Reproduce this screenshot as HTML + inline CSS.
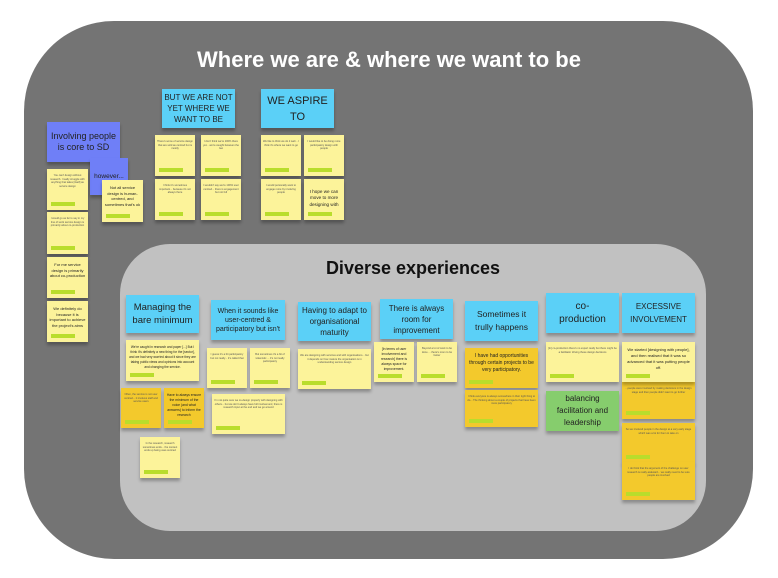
<!DOCTYPE html>
<html><head><meta charset="utf-8"><style>
body{margin:0;width:778px;height:578px;background:#fff;position:relative;overflow:hidden;font-family:"Liberation Sans",sans-serif}
.a{position:absolute}
.outer{left:24px;top:21px;width:729px;height:538px;background:#747474;border-radius:90px}
.inner{left:120px;top:244px;width:586px;height:287px;background:#c1c1c1;border-radius:50px}
.n{position:absolute;box-shadow:0 3px 3px rgba(0,0,0,.28);display:flex;flex-direction:column;align-items:center;justify-content:center;text-align:center;color:#222;box-sizing:border-box;padding:2px;overflow:hidden}
.c{background:#5bd0f7}
.b{background:#6f7ff7}
.y{background:#fcf39a;justify-content:flex-start;padding-top:5px}
.o{background:#f3c92c;justify-content:flex-start;padding-top:5px}
.g{background:#86cd6d}
.t{font-size:2.6px;line-height:3.6px;color:#555}
.m{font-size:4px;line-height:5.6px}
.bar{position:absolute;left:4px;bottom:4px;width:24px;height:4px;background:#b9dd2c}
.h{font-size:9px;line-height:11px}
</style></head><body>
<div class="a outer"></div>
<div class="a" style="left:0;width:778px;text-align:center;top:47px;font-size:22px;font-weight:bold;color:#fff">Where we are &amp; where we want to be</div>
<div class="a inner"></div>
<div class="a" style="left:120px;width:586px;top:258px;text-align:center;font-size:18px;font-weight:bold;color:#111">Diverse experiences</div>

<div class="n b h" style="left:47px;top:122px;width:73px;height:40px">Involving people is core to SD</div>
<div class="n b" style="left:90px;top:158px;width:38px;height:37px;font-size:6.5px">however...</div>
<div class="n y m" style="left:102px;top:180px;width:41px;height:42px">Not all service design is human-centred, and sometimes that's ok<div class="bar"></div></div>
<div class="n y t" style="left:47px;top:169px;width:41px;height:41px">You can't design without research. I really struggle with anything that takes [itself] as service design<div class="bar"></div></div>
<div class="n y t" style="left:47px;top:212px;width:41px;height:42px">I would go as far to say in my line of work service design is primarily about co-production<div class="bar"></div></div>
<div class="n y m" style="left:47px;top:257px;width:41px;height:41px">For me service design is primarily about co-production<div class="bar"></div></div>
<div class="n y m" style="left:47px;top:301px;width:41px;height:41px">We definitely do because it is important to achieve the project's aims<div class="bar"></div></div>

<div class="n c h" style="left:162px;top:89px;width:73px;height:39px;font-size:8px;line-height:11px">BUT WE ARE NOT YET WHERE WE WANT TO BE</div>
<div class="n c" style="left:261px;top:89px;width:73px;height:39px;font-size:11px;line-height:16px">WE ASPIRE TO</div>
<div class="n y t" style="left:155px;top:135px;width:40px;height:41px">There's some of service design that are sold as centred but is mostly<div class="bar"></div></div>
<div class="n y t" style="left:201px;top:135px;width:40px;height:41px">I don't think we're 100% there yet... we're caught between the two<div class="bar"></div></div>
<div class="n y t" style="left:155px;top:179px;width:40px;height:41px">I think it's sometimes important... because it's not always there<div class="bar"></div></div>
<div class="n y t" style="left:201px;top:179px;width:40px;height:41px">I wouldn't say we're 100% user centred... there is engagement but not full<div class="bar"></div></div>
<div class="n y t" style="left:261px;top:135px;width:40px;height:41px">We like to think we do it well... I think it's where we want to go<div class="bar"></div></div>
<div class="n y t" style="left:304px;top:135px;width:40px;height:41px">I would like to be doing more participatory design with people<div class="bar"></div></div>
<div class="n y t" style="left:261px;top:179px;width:40px;height:41px">I would personally want to engage more by involving people<div class="bar"></div></div>
<div class="n y m" style="left:304px;top:179px;width:40px;height:41px;font-size:4.6px;line-height:6.5px;justify-content:center;padding-top:0">I hope we can move to more designing with<div class="bar"></div></div>

<div class="n c" style="left:126px;top:295px;width:73px;height:38px;font-size:9.5px;line-height:13px">Managing the bare minimum</div>
<div class="n c" style="left:211px;top:300px;width:74px;height:40px;font-size:7px;line-height:9px">When it sounds like user-centred &amp; participatory but isn't</div>
<div class="n c" style="left:298px;top:302px;width:73px;height:39px;font-size:8px;line-height:11px">Having to adapt to organisational maturity</div>
<div class="n c" style="left:380px;top:299px;width:73px;height:40px;font-size:8px;line-height:11px">There is always room for improvement</div>
<div class="n c" style="left:465px;top:301px;width:73px;height:40px;font-size:8.5px;line-height:13px">Sometimes it trully happens</div>
<div class="n c" style="left:546px;top:293px;width:73px;height:40px;font-size:10px;line-height:13px">co-<br>production</div>
<div class="n c" style="left:622px;top:293px;width:73px;height:40px;font-size:8px;line-height:13px">EXCESSIVE INVOLVEMENT</div>

<div class="n y" style="left:126px;top:340px;width:73px;height:41px;font-size:3.2px;line-height:5px">We're caught in research and paper [...] But I think it's definitely a new thing for the [sector], and we had very worried about it since they are taking public views and opinions into account and changing the service.<div class="bar"></div></div>
<div class="n o t" style="left:121px;top:388px;width:40px;height:40px">Often, the service is not user centred... it involves staff and service users<div class="bar"></div></div>
<div class="n o" style="left:164px;top:388px;width:40px;height:40px;font-size:3.4px;line-height:5px">Have to always ensure the minimum of the voice (and what answers) to inform the research<div class="bar"></div></div>
<div class="n y t" style="left:140px;top:437px;width:40px;height:41px">In the research, research sometimes ends... the context ends up being user-centred<div class="bar"></div></div>
<div class="n y t" style="left:207px;top:348px;width:40px;height:40px">I guess it's a bit participatory but not really... it's called that<div class="bar"></div></div>
<div class="n y t" style="left:250px;top:348px;width:40px;height:40px">But sometimes it's a bit of tokenistic ... it's not really participatory<div class="bar"></div></div>
<div class="n y t" style="left:212px;top:394px;width:73px;height:40px">I'm not quite sure we co-design properly with designing with others... but we don't always have full involvement; there is research input at the end and we go around<div class="bar"></div></div>
<div class="n y t" style="left:298px;top:349px;width:73px;height:40px">We are designing with services and with organisations... but it depends on how mature the organisation is in understanding service design<div class="bar"></div></div>
<div class="n y" style="left:374px;top:342px;width:40px;height:40px;font-size:3.4px;line-height:5px">[In terms of user involvement and research] there is always space for improvement.<div class="bar"></div></div>
<div class="n y t" style="left:417px;top:342px;width:40px;height:40px">Beyond a lot of work to be done ... there's room to be better<div class="bar"></div></div>
<div class="n o" style="left:465px;top:348px;width:73px;height:40px;font-size:5px;line-height:7px">I have had opportunities through certain projects to be very participatory.<div class="bar"></div></div>
<div class="n o t" style="left:465px;top:390px;width:73px;height:37px">I think everyone is always somewhere in their right thing to do... The thinking about a couple of projects that have been more participatory<div class="bar"></div></div>
<div class="n y t" style="left:546px;top:342px;width:73px;height:40px">[In] co-production there's no expert really but there might be a facilitator driving these design decisions<div class="bar"></div></div>
<div class="n g" style="left:546px;top:391px;width:73px;height:40px;font-size:8px;line-height:12px">balancing facilitation and leadership</div>
<div class="n o t" style="left:622px;top:382px;width:73px;height:37px">...people were involved by making decisions in the design stage and then people didn't want to go further<div class="bar"></div></div>
<div class="n y" style="left:622px;top:342px;width:73px;height:40px;font-size:4px;line-height:6px">We started [designing with people], and then realised that it was so advanced that it was putting people off.<div class="bar"></div></div>
<div class="n o t" style="left:622px;top:423px;width:73px;height:40px">So we involved people in the design at a very early stage which was a lot for them to take on<div class="bar"></div></div>
<div class="n o t" style="left:622px;top:462px;width:73px;height:38px">I do think that the argument of the challenge on user research is really awkward... we really need to be sure people are involved<div class="bar"></div></div>
</body></html>
